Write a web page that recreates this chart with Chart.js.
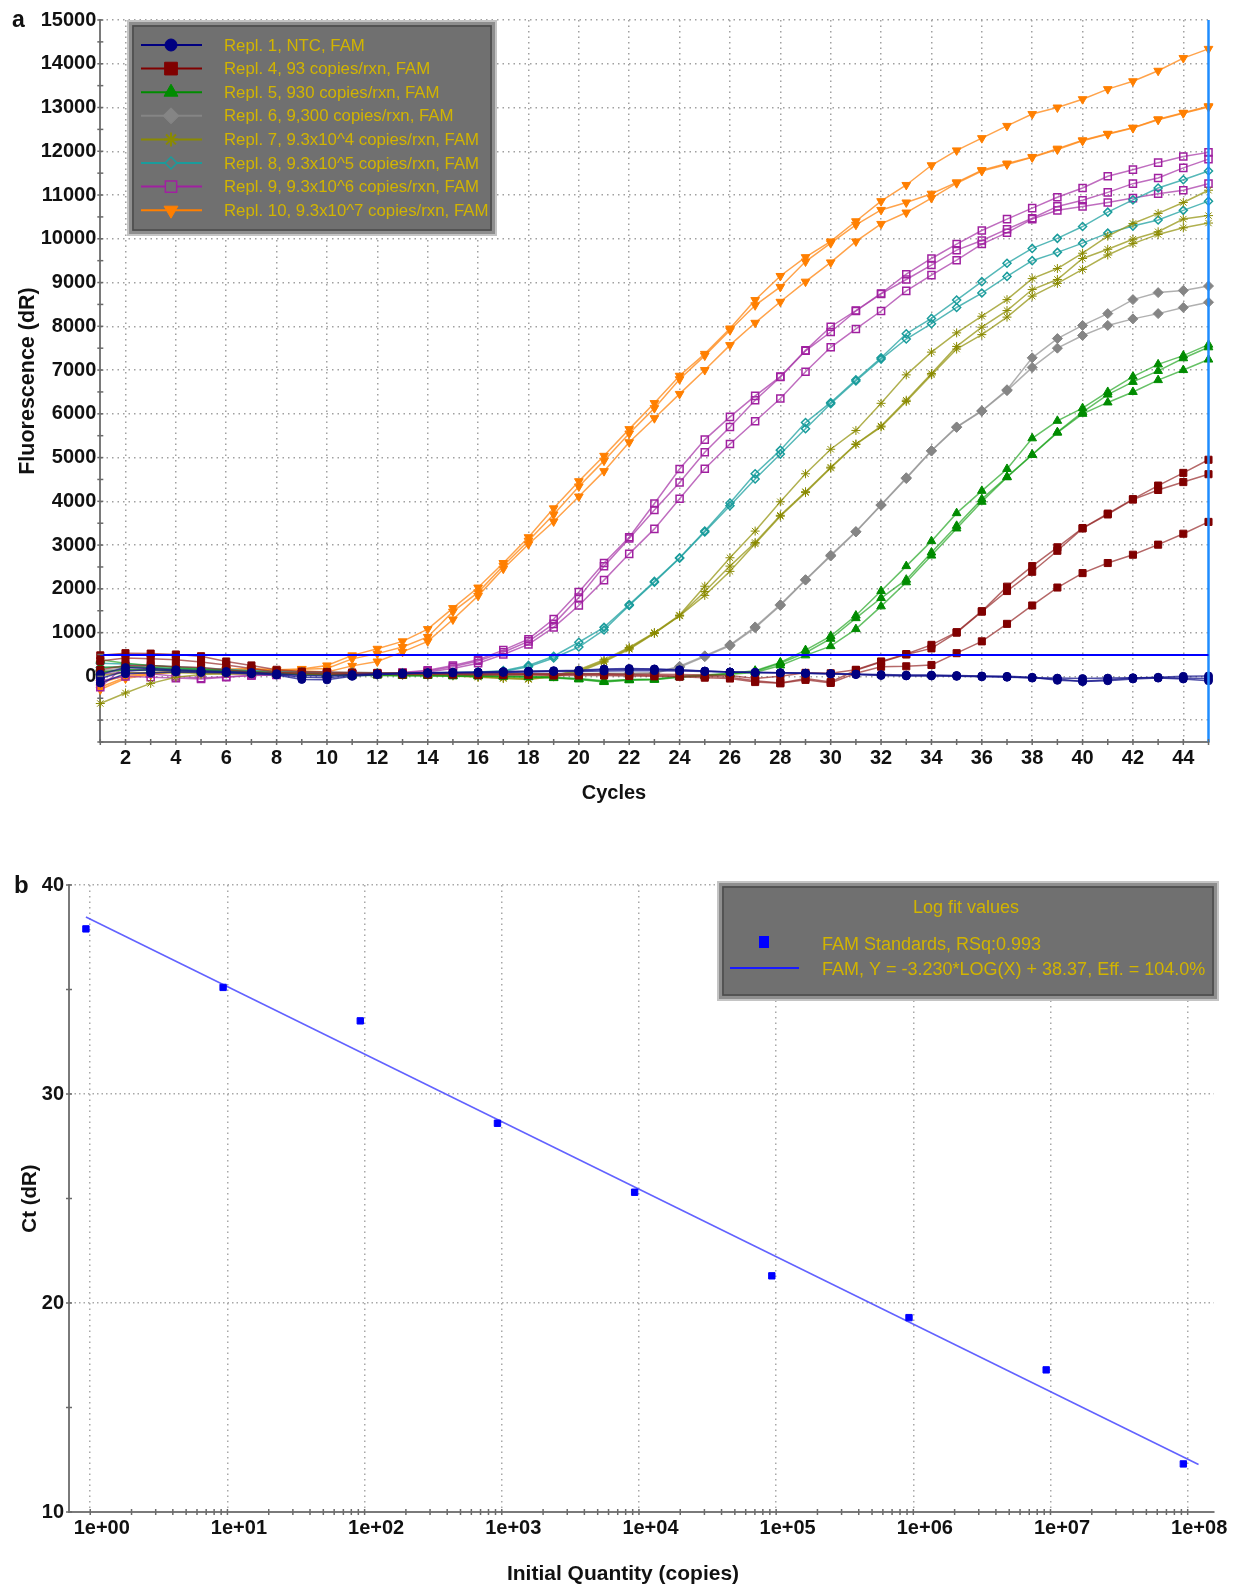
<!DOCTYPE html>
<html><head><meta charset="utf-8">
<script src="https://cdn.jsdelivr.net/npm/chart.js"></script>
<style>
html,body{margin:0;padding:0;background:#fff;}
#wrap{position:relative;width:1247px;height:1589px;overflow:hidden;}
#ca{position:absolute;left:0;top:0;}
#cb{position:absolute;left:0;top:830px;}
</style></head><body>
<div id="wrap"><canvas id="ca" width="1247" height="812"></canvas><canvas id="cb" width="1247" height="759"></canvas></div>
<script>
// ---------------- DATA: panel a ----------------
const cycles = [1,2,3,4,5,6,7,8,9,10,11,12,13,14,15,16,17,18,19,20,21,22,23,24,25,26,27,28,29,30,31,32,33,34,35,36,37,38,39,40,41,42,43,44,45];
const thresholdDR = 490;
const groupLabels = [
  'Repl. 1, NTC, FAM',
  'Repl. 4, 93 copies/rxn, FAM',
  'Repl. 5, 930 copies/rxn, FAM',
  'Repl. 6, 9,300 copies/rxn, FAM',
  'Repl. 7, 9.3x10^4 copies/rxn, FAM',
  'Repl. 8, 9.3x10^5 copies/rxn, FAM',
  'Repl. 9, 9.3x10^6 copies/rxn, FAM',
  'Repl. 10, 9.3x10^7 copies/rxn, FAM'
];
const ntc = [
  [-150,60,80,100,90,80,60,30,-70,-80, 0,40,60,80,90,100,110,120,130,140, 170,180,170,150,120,100,90,80,70,60, 40,20,10,10,0,-10,-20,-30,-40,-50, -40,-30,-30,-40,-50],
  [-50,120,150,130,110,90,70,40,-20,-30, 20,50,70,80,90,90,100,110,120,130, 150,160,160,140,120,100,90,80,70,60, 50,30,20,20,10,0,0,-20,-90,-110, -80,-40,-20,0,10],
  [50,200,180,150,130,110,90,60,20,10, 40,60,70,70,80,80,90,100,110,110, 120,130,130,120,110,100,90,80,70,60, 50,40,30,30,20,10,-10,-40,-60,-120, -100,-60,-40,-60,-100]
];
const c93 = [
  [480,530,520,500,460,340,250,150,110,100, 90,80,80,80,70,70,70,60,60,60, 60,50,50,40,30,20,-50,0,80,70, 150,340,510,720,1010,1490,2050,2520,2950,3390, 3720,4050,4360,4650,4950],
  [350,420,400,380,330,260,180,100,80,70, 70,60,60,60,60,50,50,50,40,40, 40,30,20,10,0,-20,-100,-150,-50,-130, 140,330,500,640,1000,1480,1950,2390,2870,3380, 3700,4040,4260,4440,4620],
  [150,250,250,220,200,150,100,80,60,50, 50,50,40,40,40,30,30,30,20,20, 20,10,0,-10,-30,-50,-130,-160,-80,-150, 70,220,230,260,530,800,1200,1620,2030,2360, 2590,2780,3010,3260,3530]
];
const c930 = [
  [380,300,250,200,170,140,110,80,60,50, 40,40,30,30,20,20,10,0,-20,-50, -100,-70,-60,0,30,70,130,320,600,920, 1390,1950,2520,3090,3730,4240,4740,5440,5840,6130, 6500,6850,7130,7330,7580],
  [200,220,200,170,150,120,100,70,50,40, 30,30,20,20,10,10,0,-10,-30,-60, -120,-80,-70,-10,20,60,110,300,540,860, 1330,1790,2210,2830,3440,4050,4560,5070,5580,6040, 6440,6730,6980,7270,7520],
  [100,150,150,130,120,100,80,60,40,30, 20,20,10,10,0,0,-10,-20,-40,-70, -130,-90,-80,-20,10,50,90,250,480,690, 1080,1600,2150,2760,3380,3990,4550,5060,5570,6000, 6260,6500,6770,7000,7240]
];
const c9300 = [
  [120,200,180,150,130,110,90,70,60,60, 50,50,50,50,50,50,60,60,60,60, 70,70,80,230,470,720,1130,1640,2210,2770, 3310,3920,4540,5160,5700,6070,6550,7280,7720,8020, 8290,8610,8770,8820,8920],
  [60,150,140,120,100,90,70,60,50,50, 40,40,40,40,40,40,50,50,50,50, 60,60,70,210,450,700,1110,1620,2200,2750, 3300,3910,4520,5150,5690,6060,6530,7060,7500,7790, 8020,8170,8290,8430,8550]
];
const c93e4 = [
  [-620,-380,-160,-20,40,60,70,60,60,60, 50,50,50,40,30,0,-30,-50,20,150, 380,660,1000,1400,2060,2710,3320,3990,4630,5190, 5620,6240,6890,7410,7850,8230,8610,9090,9320,9670, 10060,10350,10580,10830,11110],
  [100,150,140,120,100,90,80,70,60,60, 50,50,40,30,20,-10,-40,-60,0,130, 350,640,990,1385,1940,2520,3060,3680,4220,4780, 5310,5720,6310,6920,7540,7980,8360,8840,9070,9550, 9760,9990,10160,10450,10530],
  [20,80,90,80,70,60,60,50,50,40, 40,30,30,20,10,-20,-50,-70,-10,100, 330,620,980,1380,1850,2400,3030,3660,4200,4760, 5300,5700,6280,6890,7480,7810,8210,8690,8980,9300, 9630,9890,10100,10250,10360]
];
const c93e5 = [
  [300,280,250,220,190,160,130,110,100,90, 90,80,80,80,90,100,130,250,460,780, 1120,1640,2170,2710,3320,3960,4630,5170,5800,6260, 6780,7280,7830,8180,8600,9020,9440,9780,10010,10280, 10610,10890,11160,11350,11550],
  [200,220,200,180,160,140,120,100,90,80, 80,70,70,70,80,90,110,220,420,670, 1060,1620,2150,2700,3300,3900,4510,5080,5660,6230, 6750,7250,7710,8060,8430,8760,9140,9500,9690,9900, 10130,10290,10430,10650,10860]
];
const c93e6 = [
  [-250,250,200,120,80,60,50,40,40,40, 50,60,90,140,250,380,600,850,1310,1930, 2590,3180,3950,4740,5410,5930,6410,6850,7450,7990, 8360,8750,9190,9550,9880,10190,10450,10700,10950,11160, 11430,11580,11740,11880,11975],
  [-100,0,-20,-40,-60,-20,20,40,50,50, 50,60,80,120,220,350,550,800,1200,1800, 2515,3150,3800,4430,5120,5700,6310,6840,7440,7870, 8350,8740,9070,9400,9740,9960,10220,10470,10740,10880, 11060,11260,11390,11620,11820],
  [50,100,60,0,-40,-10,20,30,40,40, 40,50,60,100,180,300,500,730,1120,1620, 2200,2800,3370,4060,4745,5310,5830,6350,6960,7520, 7940,8350,8810,9170,9510,9880,10140,10450,10650,10740, 10830,10930,11030,11110,11260]
];
const c93e7 = [
  [-150,20,70,130,130,160,180,150,170,250, 480,630,800,1080,1560,2030,2590,3180,3840,4460, 5040,5650,6245,6870,7370,7950,8600,9150,9580,9940, 10400,10860,11230,11680,12020,12300,12580,12850,13000,13190, 13420,13600,13840,14130,14340],
  [-250,-20,60,120,110,150,170,140,160,180, 400,520,670,900,1480,1920,2530,3100,3700,4340, 4930,5550,6130,6790,7330,7910,8480,8900,9480,9900, 10320,10660,10830,11030,11290,11570,11720,11870,12060,12250, 12400,12540,12730,12880,13030],
  [-300,-50,40,100,90,130,150,120,130,100, 240,340,560,800,1300,1840,2460,3020,3540,4110, 4690,5350,5900,6455,7000,7570,8080,8560,9020,9460, 9940,10340,10600,10930,11270,11550,11700,11860,12040,12240, 12390,12530,12720,12870,13010]
];
const yMinA = -1500, yMaxA = 15000;
const yTicksA = [-1000,0,1000,2000,3000,4000,5000,6000,7000,8000,9000,10000,11000,12000,13000,14000,15000];
const xTicksA = [2,4,6,8,10,12,14,16,18,20,22,24,26,28,30,32,34,36,38,40,42,44];

// ---------------- DATA: panel b ----------------
const qtyB = [0.93, 9.3, 93, 930, 9300, 93000, 930000, 9300000, 93000000];
const ctB  = [37.9, 35.1, 33.5, 28.6, 25.3, 21.3, 19.3, 16.8, 12.3];
const fitQty = [0.93, 120000000];
const fitCt  = [38.47, 12.27];
const xMinB = 0.732, xMaxB = 154000000;
const xTicksB = [1,10,100,1000,10000,100000,1000000,10000000,100000000];
const xTickLabelsB = ['1e+00','1e+01','1e+02','1e+03','1e+04','1e+05','1e+06','1e+07','1e+08'];
const yTicksB = [10,20,30,40];
const legendBTitle = 'Log fit values';
const legendBLines = ['FAM Standards, RSq:0.993', 'FAM, Y = -3.230*LOG(X) + 38.37, Eff. = 104.0%'];

// ---------------- STYLE ----------------
const FONT = "'Liberation Sans', Arial, Helvetica, sans-serif";
const GOLD = '#d2b400';
const styleA = [
  {color:'#000080', line:'rgba(20,20,140,0.75)', style:'circle', r:4, lr:6, fill:true},
  {color:'#800000', line:'rgba(150,40,40,0.7)', style:'rect', r:5, lr:9, fill:true},
  {color:'#008c00', line:'rgba(20,160,20,0.65)', style:'triangle', r:5, lr:8, fill:true},
  {color:'#858585', line:'rgba(150,150,150,0.75)', style:'rectRot', r:5, lr:8, fill:true},
  {color:'#8a8a00', line:'rgba(150,150,20,0.75)', style:'star', r:4.5, lr:7, fill:true},
  {color:'#1a9c9c', line:'rgba(30,160,160,0.75)', style:'rectRot', r:4, lr:6, fill:false},
  {color:'#a020a0', line:'rgba(170,60,170,0.75)', style:'rect', r:5, lr:8, fill:false},
  {color:'#ff7f00', line:'rgba(255,140,30,0.8)', style:'triangle', r:5, lr:8, rot:180, fill:true}
];
const groupData = [ntc, c93, c930, c9300, c93e4, c93e5, c93e6, c93e7];

const datasetsA = [];
datasetsA.push({data:[{x:cycles[0],y:thresholdDR},{x:cycles[cycles.length-1],y:thresholdDR}], borderColor:'#0000ff', borderWidth:2, pointRadius:0, clip:4});
datasetsA.push({data:[{x:cycles[cycles.length-1],y:yMinA},{x:cycles[cycles.length-1],y:yMaxA}], borderColor:'#1e8cff', borderWidth:2.5, pointRadius:0, clip:4});
groupData.forEach((reps, g) => {
  const st = styleA[g];
  reps.forEach(vals => {
    datasetsA.push({
      data: vals.map((v,i)=>({x:cycles[i], y:v})),
      borderColor: st.line, borderWidth: 1.5, tension: 0,
      pointStyle: st.style, pointRadius: st.r, pointRotation: st.rot || 0,
      pointBackgroundColor: st.fill ? st.color : 'rgba(255,255,255,0)',
      pointBorderColor: st.color, pointBorderWidth: st.fill ? 1 : 1.5,
      clip: 8
    });
  });
});

function tickMark(ctx, x1, y1, x2, y2){ ctx.beginPath(); ctx.moveTo(x1,y1); ctx.lineTo(x2,y2); ctx.stroke(); }

function drawBox(ctx, x, y, w, h){
  ctx.fillStyle = '#707070'; ctx.fillRect(x, y, w, h);
  ctx.lineWidth = 2; ctx.strokeStyle = '#c4c4c4'; ctx.strokeRect(x+1, y+1, w-2, h-2);
  ctx.lineWidth = 3; ctx.strokeStyle = '#8e8e8e'; ctx.strokeRect(x+3.5, y+3.5, w-7, h-7);
  ctx.lineWidth = 1.5; ctx.strokeStyle = '#4a4a4a'; ctx.strokeRect(x+6, y+6, w-12, h-12);
}

const decorA = {
  id:'decorA',
  afterDraw(chart){
    const ctx = chart.ctx, xs = chart.scales.x, ys = chart.scales.y, a = chart.chartArea;
    ctx.save();
    ctx.strokeStyle = '#6a6a6a'; ctx.lineWidth = 1.5;
    for (let c = 1; c <= 45; c++) { const px = xs.getPixelForValue(c); tickMark(ctx, px, a.bottom-3, px, a.bottom+3); }
    for (let v = yMinA; v <= yMaxA; v += 500) { const py = ys.getPixelForValue(v); tickMark(ctx, a.left-3, py, a.left+3, py); }
    ctx.fillStyle = '#111'; ctx.font = 'bold 20px ' + FONT; ctx.textAlign = 'center'; ctx.textBaseline = 'middle';
    ctx.fillText('Cycles', 614, 793);
    ctx.textAlign = 'left'; ctx.textBaseline = 'alphabetic'; ctx.font = 'bold 23px ' + FONT;
    ctx.fillText('a', 12, 27);
    drawBox(ctx, 127, 20, 370, 216);
    groupLabels.forEach((lab, i) => {
      const st = styleA[i]; const y = 45 + i*23.6;
      ctx.strokeStyle = st.color; ctx.lineWidth = 2;
      tickMark(ctx, 141, y, 202, y);
      ctx.fillStyle = st.fill ? st.color : '#707070'; ctx.strokeStyle = st.color;
      if (st.fill) {
        ctx.lineWidth = st.style==='star' ? 2 : 1;
        Chart.helpers.drawPoint(ctx, {pointStyle: st.style, radius: st.lr, rotation: st.rot || 0, borderWidth: st.style==='star'?2:1}, 171, y);
      } else {
        ctx.lineWidth = 1.5;
        Chart.helpers.drawPoint(ctx, {pointStyle: st.style, radius: st.lr, rotation: 0, borderWidth: 1.5}, 171, y);
      }
      ctx.fillStyle = GOLD; ctx.font = '16.8px ' + FONT; ctx.textAlign = 'left'; ctx.textBaseline = 'middle';
      ctx.fillText(lab, 224, y + 1);
    });
    ctx.restore();
  }
};

const tickFont = {size:20, weight:'bold', family:FONT};

new Chart(document.getElementById('ca'), {
  type:'line',
  data:{datasets: datasetsA},
  options:{
    responsive:false, animation:false, devicePixelRatio:1,
    layout:{padding:{left:0, right:38.5, top:20, bottom:0}},
    plugins:{legend:{display:false}, tooltip:{enabled:false}},
    scales:{
      x:{type:'linear', min:cycles[0], max:cycles[cycles.length-1],
        afterBuildTicks(s){ s.ticks = xTicksA.map(v=>({value:v})); },
        afterFit(s){ s.height = 70; },
        grid:{color:'#a0a0a0', lineWidth:1.5, drawTicks:false},
        border:{display:true, color:'#7a7a7a', width:2, dash:[1.5,4]},
        ticks:{padding:4, color:'#111', font:tickFont, autoSkip:false, maxRotation:0, callback:(v)=>String(v)}
      },
      y:{type:'linear', min:yMinA, max:yMaxA,
        afterBuildTicks(s){ s.ticks = yTicksA.map(v=>({value:v})); },
        afterFit(s){ s.width = 100.3; },
        grid:{color:'#a0a0a0', lineWidth:1.5, drawTicks:false},
        border:{display:true, color:'#7a7a7a', width:2, dash:[1.5,4]},
        ticks:{padding:4, color:'#111', font:tickFont, autoSkip:false, callback:(v)=> v < 0 ? '' : String(v)},
        title:{display:true, text:'Fluorescence (dR)', color:'#111', font:{size:21.5, weight:'bold', family:FONT}, padding:{top:15, bottom:0}}
      }
    }
  },
  plugins:[decorA]
});

// ---------------- panel b ----------------
const decorB = {
  id:'decorB',
  afterDraw(chart){
    const ctx = chart.ctx, xs = chart.scales.x, ys = chart.scales.y, a = chart.chartArea;
    ctx.save();
    ctx.strokeStyle = '#6a6a6a'; ctx.lineWidth = 1.5;
    for (let d = 1; d <= 1e8; d *= 10) {
      for (let m = 1; m <= 9; m++) {
        const v = d*m; if (v < xMinB || v > xMaxB) continue;
        const px = xs.getPixelForValue(v); tickMark(ctx, px, a.bottom-3, px, a.bottom+3);
      }
    }
    for (let v = 10; v <= 40; v += 5) { const py = ys.getPixelForValue(v); tickMark(ctx, a.left-3, py, a.left+3, py); }
    ctx.fillStyle = '#111'; ctx.font = 'bold 21px ' + FONT; ctx.textAlign = 'center'; ctx.textBaseline = 'middle';
    ctx.fillText('Initial Quantity (copies)', 623, 744);
    ctx.textAlign = 'left'; ctx.textBaseline = 'alphabetic'; ctx.font = 'bold 24px ' + FONT;
    ctx.fillText('b', 14, 63);
    drawBox(ctx, 717, 51, 502, 120);
    ctx.fillStyle = GOLD; ctx.font = '18px ' + FONT; ctx.textBaseline = 'middle';
    ctx.textAlign = 'center'; ctx.fillText(legendBTitle, 966, 78);
    ctx.textAlign = 'left';
    ctx.fillText(legendBLines[0], 822, 115);
    ctx.fillText(legendBLines[1], 822, 140);
    ctx.fillStyle = '#0000ff'; ctx.fillRect(759, 106, 10, 12);
    ctx.strokeStyle = '#1a1aff'; ctx.lineWidth = 2; tickMark(ctx, 730, 138, 799, 138);
    ctx.restore();
  }
};

new Chart(document.getElementById('cb'), {
  type:'scatter',
  data:{datasets:[
    {data: qtyB.map((q,i)=>({x:q, y:ctB[i]})), pointStyle:'rect', pointRadius:4.5, pointBackgroundColor:'#0000ff', pointBorderColor:'#0000ff', pointBorderWidth:1, showLine:false, clip:8},
    {data: fitQty.map((q,i)=>({x:q, y:fitCt[i]})), showLine:true, borderColor:'rgba(70,70,255,0.85)', borderWidth:1.6, pointRadius:0, clip:4}
  ]},
  options:{
    responsive:false, animation:false, devicePixelRatio:1,
    layout:{padding:{left:0, right:33.6, top:55, bottom:0}},
    plugins:{legend:{display:false}, tooltip:{enabled:false}},
    scales:{
      x:{type:'logarithmic', min:xMinB, max:xMaxB,
        afterBuildTicks(s){ s.ticks = xTicksB.map(v=>({value:v})); },
        afterFit(s){ s.height = 77; },
        grid:{color:'#a8a8a8', lineWidth:1.5, drawTicks:false},
        border:{display:true, color:'#7a7a7a', width:2, dash:[1.5,4]},
        ticks:{padding:4, labelOffset:11.5, color:'#111', font:tickFont, autoSkip:false, maxRotation:0, callback:(v,i)=>xTickLabelsB[i]}
      },
      y:{type:'linear', min:yTicksB[0], max:yTicksB[yTicksB.length-1],
        afterBuildTicks(s){ s.ticks = yTicksB.map(v=>({value:v})); },
        afterFit(s){ s.width = 69; },
        grid:{color:'#a8a8a8', lineWidth:1.5, drawTicks:false},
        border:{display:true, color:'#7a7a7a', width:2, dash:[1.5,3]},
        ticks:{padding:5, color:'#111', font:tickFont, autoSkip:false, callback:(v)=>String(v)},
        title:{display:true, text:'Ct (dR)', color:'#111', font:{size:20.5, weight:'bold', family:FONT}, padding:{top:18, bottom:0}}
      }
    }
  },
  plugins:[decorB]
});
</script>
</body></html>
